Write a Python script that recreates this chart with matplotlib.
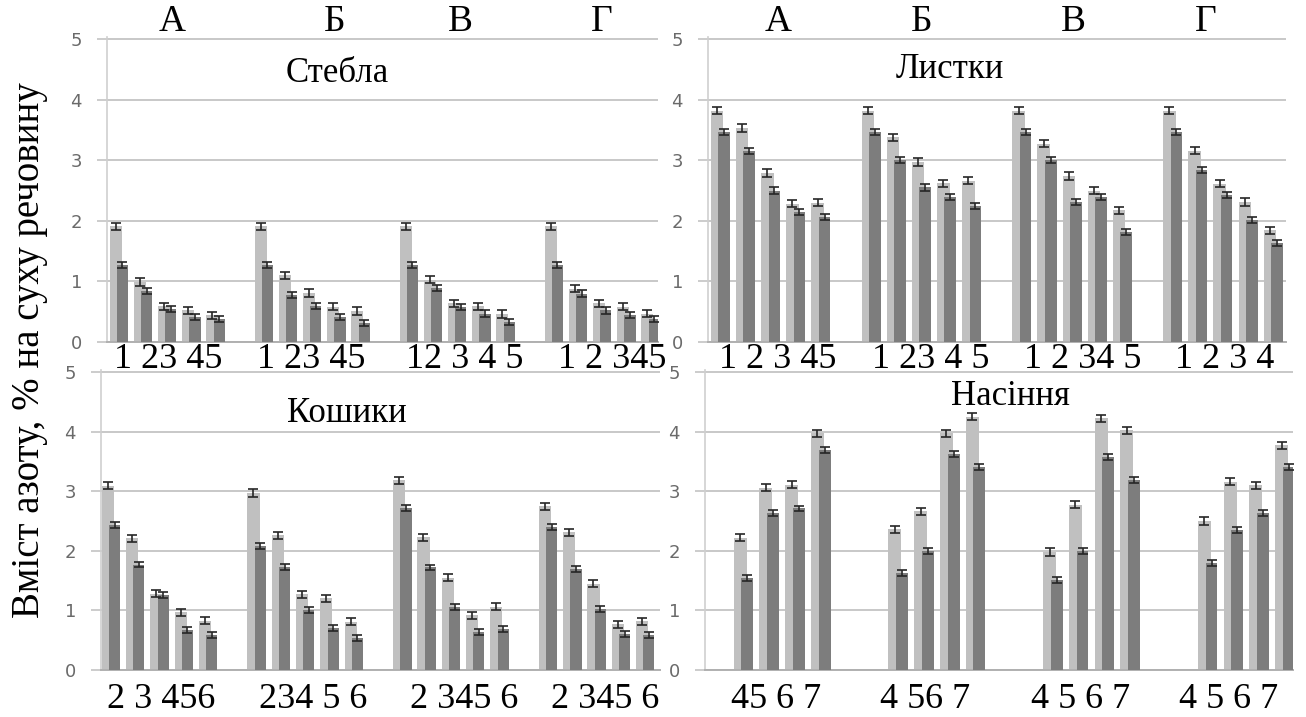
import numpy as np
import matplotlib.pyplot as plt

groups = ['А', 'Б', 'В', 'Г']

# Стебла (light = first series, dark = second series), 5 pairs per group
stem_light = [[1.91, 0.99, 0.59, 0.52, 0.44],
              [1.91, 1.10, 0.81, 0.58, 0.51],
              [1.91, 1.03, 0.64, 0.59, 0.46],
              [1.91, 0.88, 0.64, 0.58, 0.47]]
stem_dark = [[1.27, 0.84, 0.55, 0.41, 0.38],
             [1.27, 0.78, 0.59, 0.42, 0.32],
             [1.27, 0.89, 0.57, 0.47, 0.33],
             [1.27, 0.80, 0.52, 0.44, 0.38]]

# Листки
leaf_light = [[3.82, 3.53, 2.79, 2.28, 2.30],
              [3.82, 3.38, 2.97, 2.62, 2.66],
              [3.82, 3.27, 2.74, 2.50, 2.17],
              [3.82, 3.16, 2.61, 2.31, 1.84]]
leaf_dark = [[3.46, 3.15, 2.50, 2.15, 2.06],
             [3.46, 3.00, 2.55, 2.39, 2.25],
             [3.46, 3.00, 2.31, 2.40, 1.81],
             [3.46, 2.84, 2.42, 2.02, 1.63]]

# Кошики
head_light = [[3.09, 2.21, 1.28, 0.97, 0.83],
              [2.97, 2.26, 1.27, 1.20, 0.81],
              [3.18, 2.23, 1.55, 0.92, 1.06],
              [2.75, 2.31, 1.45, 0.77, 0.82]]
head_dark = [[2.44, 1.77, 1.26, 0.67, 0.59],
             [2.08, 1.73, 1.01, 0.70, 0.53],
             [2.72, 1.72, 1.06, 0.64, 0.69],
             [2.40, 1.69, 1.03, 0.61, 0.59]]

# Насіння, 4 pairs per group
seed_light = [[2.22, 3.06, 3.11, 3.97],
              [2.36, 2.66, 3.97, 4.25],
              [1.98, 2.77, 4.22, 4.02],
              [2.50, 3.16, 3.10, 3.77]]
seed_dark = [[1.55, 2.63, 2.71, 3.69],
             [1.63, 1.99, 3.63, 3.41],
             [1.51, 1.99, 3.58, 3.18],
             [1.79, 2.35, 2.63, 3.41]]

err_light = 0.06
err_dark = 0.05

titles = ['Стебла', 'Листки', 'Кошики', 'Насіння']
top_row_nums = ['1 23 45', '1 23 45', '12 3 4 5', '1 2 345',
                '1 2 3 45', '1 23 4 5', '1 2 34 5', '1 2 3 4']
bottom_row_nums = ['2 3 456', '234 5 6', '2 345 6', '2 345 6',
                   '45 6 7', '4 56 7', '4 5 6 7', '4 5 6 7']
ylabel = 'Вміст азоту, % на суху речовину'

W, H = 1306, 717
LIGHT = '#c0c0c0'
DARK = '#7d7d7d'
GRID = '#c4c4c4'
SERIF = ['Liberation Serif', 'DejaVu Serif']

fig = plt.figure(figsize=(W / 100, H / 100), dpi=100)


def px_axes(x0, x1, y5, y0, ytop=5.03):
    # y5 / y0: pixel rows of the 5 and 0 gridlines
    unit = (y0 - y5) / 5.0
    top = y0 - unit * ytop
    ax = fig.add_axes([x0 / W, 1 - y0 / H, (x1 - x0) / W, (y0 - top) / H])
    ax.set_ylim(0, ytop)
    return ax


def draw_panel(ax, light, dark, first_slot, xmin, xmax):
    light = np.array(light)
    dark = np.array(dark)
    ng, npair = light.shape
    x = np.array([6 * g + first_slot + i for g in range(ng) for i in range(npair)], dtype=float)
    ekw = dict(ecolor='#262626', elinewidth=1.2, capthick=1.2, zorder=5)
    ax.bar(x + 0.36, light.ravel(), width=0.5, color=LIGHT, yerr=err_light,
           capsize=3.5, error_kw=ekw, zorder=2)
    ax.bar(x + 0.64, dark.ravel(), width=0.46, color=DARK, yerr=err_dark,
           capsize=3.5, error_kw=ekw, zorder=3)
    ax.set_xlim(xmin, xmax)
    ax.set_yticks(range(6))
    ax.set_xticks([])
    ax.set_axisbelow(True)
    ax.yaxis.grid(True, color=GRID, lw=1.3)
    for s in ['top', 'right']:
        ax.spines[s].set_visible(False)
    ax.spines['left'].set_color('#cfcfcf')
    ax.spines['left'].set_linewidth(1.2)
    ax.spines['bottom'].set_color('#b0b0b0')
    ax.spines['bottom'].set_linewidth(1.4)
    ax.tick_params(axis='y', length=7, width=1.2, color=GRID, pad=11,
                   labelsize=13, labelcolor='#6a6a6a')
    ax.patch.set_alpha(0)


ax1 = px_axes(107, 658, 39, 342)
draw_panel(ax1, stem_light, stem_dark, 0, 0, 22.8)
ax2 = px_axes(708, 1286, 39, 342)
draw_panel(ax2, leaf_light, leaf_dark, 0, 0, 23.0)
ax3 = px_axes(101, 660, 372, 670)
draw_panel(ax3, head_light, head_dark, 0, 0.08, 23.1)
ax4 = px_axes(705, 1293, 372, 670)
draw_panel(ax4, seed_light, seed_dark, 1, 0, 22.8)


def ftext(x, y, s, **kw):
    fig.text(x / W, 1 - y / H, s, family=SERIF, **kw)


# group letters over the top panels
for xs in ([172, 335, 460, 602], [778, 922, 1073, 1206]):
    for xp, g in zip(xs, groups):
        ftext(xp, 22, g, fontsize=27, ha='center', va='center')

# panel titles
for (xp, yp), t in zip([(337, 73), (950, 70), (347, 414), (1010, 397)], titles):
    ftext(xp, yp, t, fontsize=25, ha='center', va='center')

# number rows under the panels
top_x = [114, 257, 406, 558, 719, 872, 1024, 1175]
for xp, s in zip(top_x, top_row_nums):
    ftext(xp, 360, s, fontsize=26, ha='left', va='center')
bot_x = [107, 259, 410, 551, 731, 880, 1031, 1179]
for xp, s in zip(bot_x, bottom_row_nums):
    ftext(xp, 699, s, fontsize=26, ha='left', va='center')

ftext(30, 350, ylabel, fontsize=28, rotation=90, ha='center', va='center')

fig.savefig('out.png', dpi=100)
